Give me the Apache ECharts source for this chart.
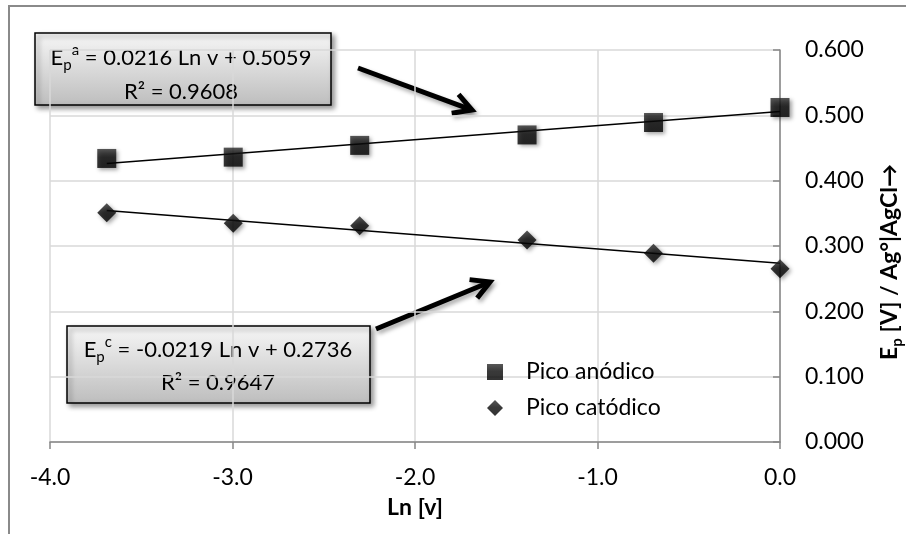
<!DOCTYPE html>
<html>
<head>
<meta charset="utf-8">
<script src="https://cdn.jsdelivr.net/npm/echarts@6/dist/echarts.min.js"></script>
<style>
  html, body { margin: 0; padding: 0; background: #fff; }
  #chart { width: 906px; height: 534px; }
</style>
</head>
<body>
<div id="chart"></div>
<script>
// Peak potential vs. ln(scan rate)
const lnV = [-3.689, -2.996, -2.303, -1.386, -0.693, 0.0];
const epAnodic = [0.434, 0.436, 0.454, 0.470, 0.489, 0.512];
const epCathodic = [0.351, 0.335, 0.331, 0.309, 0.289, 0.265];
const seriesNames = ['Pico anódico', 'Pico catódico'];

// Linear fits (E = slope * Ln v + intercept)
const fitAnodic = { slope: 0.0216, intercept: 0.5059, r2: '0.9608' };
const fitCathodic = { slope: -0.0219, intercept: 0.2736, r2: '0.9647' };

// Axis ranges: [min, max, interval]
const xRange = [-4, 0, 1];
const yRange = [0, 0.6, 0.1];
const xTitle = 'Ln [v]';

const FONT = 'Lato, "Open Sans", sans-serif';

function fitLine(fit) {
  const x0 = lnV[0], x1 = lnV[lnV.length - 1];
  return [[x0, fit.slope * x0 + fit.intercept], [x1, fit.slope * x1 + fit.intercept]];
}
function pairs(ys) { return lnV.map((x, i) => [x, ys[i]]); }
function fmtSigned(v) { return (v < 0 ? '-' : '') + Math.abs(v).toFixed(4); }

const markerFill = new echarts.graphic.LinearGradient(0, 0, 0, 1, [
  { offset: 0, color: '#2e2e2e' },
  { offset: 0.45, color: '#080808' },
  { offset: 1, color: '#000000' }
]);
const markerStyle = {
  color: markerFill,
  shadowBlur: 4, shadowOffsetX: 2, shadowOffsetY: 2, shadowColor: 'rgba(0,0,0,0.45)'
};

const richEq = {
  b: { fontFamily: FONT, fontSize: 22, lineHeight: 30, color: '#000' },
  sub: { fontFamily: FONT, fontSize: 15, lineHeight: 15, verticalAlign: 'bottom', color: '#000' },
  sup: { fontFamily: FONT, fontSize: 15, lineHeight: 15, verticalAlign: 'top', color: '#000' }
};

function eqLine(sup, fit) {
  const sign = fit.intercept < 0 ? '-' : '+';
  return '{b|E}{sub|p}{sup|' + sup + '}{b| = ' + fmtSigned(fit.slope) + ' Ln v ' + sign + ' ' +
    Math.abs(fit.intercept).toFixed(4) + '}';
}

// Trendline label box: rectangle + equation line + R² line
function eqBox(x, y, w, h, cx, y1, y2, sup, fit) {
  return {
    type: 'group',
    z: 20,
    children: [
      {
        type: 'rect',
        shape: { x: x, y: y, width: w, height: h },
        style: {
          fill: new echarts.graphic.LinearGradient(0, 0, 0, 1, [
            { offset: 0, color: '#f7f7f7' },
            { offset: 1, color: '#bdbdbd' }
          ]),
          stroke: '#000', lineWidth: 1.5,
          shadowBlur: 5, shadowOffsetX: 3, shadowOffsetY: 3, shadowColor: 'rgba(0,0,0,0.4)'
        }
      },
      {
        type: 'text', x: cx, y: y1,
        style: { text: eqLine(sup, fit), align: 'center', verticalAlign: 'middle', rich: richEq }
      },
      {
        type: 'text', x: cx, y: y2,
        style: {
          text: 'R² = ' + fit.r2, align: 'center', verticalAlign: 'middle',
          fontFamily: FONT, fontSize: 22, fill: '#000'
        }
      }
    ]
  };
}

function arrow(tail, tip) {
  const dx = tip[0] - tail[0], dy = tip[1] - tail[1];
  const len = Math.sqrt(dx * dx + dy * dy);
  const ux = dx / len, uy = dy / len, px = -uy, py = ux;
  const back = 18, half = 10;
  const bx = tip[0] - back * ux, by = tip[1] - back * uy;
  const shadow = { shadowBlur: 4, shadowOffsetX: 2, shadowOffsetY: 3, shadowColor: 'rgba(0,0,0,0.35)' };
  return {
    type: 'group',
    z: 20,
    children: [
      {
        type: 'line',
        shape: { x1: tail[0], y1: tail[1], x2: tip[0] - 2 * ux, y2: tip[1] - 2 * uy },
        style: Object.assign({ stroke: '#000', lineWidth: 5 }, shadow)
      },
      {
        type: 'polyline',
        shape: { points: [[bx + half * px, by + half * py], [tip[0], tip[1]], [bx - half * px, by - half * py]] },
        style: Object.assign({ stroke: '#000', lineWidth: 5, fill: null, lineJoin: 'miter' }, shadow)
      }
    ]
  };
}

const chart = echarts.init(document.getElementById('chart'), null, { renderer: 'canvas' });

chart.setOption({
  backgroundColor: '#fff',
  animation: false,
  textStyle: { fontFamily: FONT },
  grid: { left: 50, right: 126, top: 50, bottom: 92 },
  xAxis: {
    type: 'value',
    min: xRange[0], max: xRange[1], interval: xRange[2],
    name: xTitle,
    nameLocation: 'middle',
    nameGap: 54,
    nameTextStyle: { fontFamily: FONT, fontSize: 23, fontWeight: 'bold', color: '#000' },
    axisLine: { onZero: false, lineStyle: { color: '#868686', width: 1.5 } },
    axisTick: { show: true, inside: false, length: 7, lineStyle: { color: '#868686', width: 1.5 } },
    axisLabel: { margin: 24, fontSize: 23, color: '#000', fontFamily: FONT, formatter: v => v.toFixed(1) },
    splitLine: { show: true, lineStyle: { color: '#d9d9d9', width: 1.5 } }
  },
  yAxis: {
    type: 'value',
    position: 'right',
    min: yRange[0], max: yRange[1], interval: yRange[2],
    axisLine: { show: true, onZero: false, lineStyle: { color: '#868686', width: 1.5 } },
    axisTick: { show: true, inside: true, length: 7, lineStyle: { color: '#868686', width: 1.5 } },
    axisLabel: { margin: 25, fontSize: 23, color: '#000', fontFamily: FONT, formatter: v => v.toFixed(3) },
    splitLine: { show: true, lineStyle: { color: '#d9d9d9', width: 1.5 } }
  },
  legend: {
    orient: 'vertical',
    left: 482, top: 353,
    itemWidth: 16, itemHeight: 16, itemGap: 8,
    data: seriesNames,
    textStyle: { fontFamily: FONT, fontSize: 23, color: '#000', lineHeight: 28, padding: [0, 0, 0, 18] }
  },
  series: [
    {
      name: 'fit-a', type: 'line', data: fitLine(fitAnodic), symbol: 'none', z: 2,
      lineStyle: { color: '#000', width: 1.5 }, silent: true
    },
    {
      name: 'fit-c', type: 'line', data: fitLine(fitCathodic), symbol: 'none', z: 2,
      lineStyle: { color: '#000', width: 1.5 }, silent: true
    },
    {
      name: seriesNames[0], type: 'scatter', data: pairs(epAnodic), z: 5,
      symbol: 'rect', symbolSize: 19, itemStyle: markerStyle
    },
    {
      name: seriesNames[1], type: 'scatter', data: pairs(epCathodic), z: 5,
      symbol: 'diamond', symbolSize: 19, itemStyle: markerStyle
    }
  ],
  graphic: [
    // outer chart frame
    {
      type: 'rect', z: 0, silent: true,
      shape: { x: 9, y: 6, width: 920, height: 560 },
      style: { fill: null, stroke: '#8a8a8a', lineWidth: 2 }
    },
    eqBox(35, 33, 296, 72, 181, 58, 92, 'a', fitAnodic),
    eqBox(67, 326, 303, 77, 218, 350, 383, 'c', fitCathodic),
    arrow([358, 68], [472, 110]),
    arrow([376, 329], [490, 282]),
    // right axis title
    {
      type: 'text', z: 20,
      x: 890, y: 262, rotation: Math.PI / 2,
      style: {
        text: '{b|E}{sub|p}{b| [V] / Ag°|AgCl→}',
        align: 'center', verticalAlign: 'middle',
        rich: {
          b: { fontFamily: FONT, fontSize: 23, fontWeight: 'bold', lineHeight: 29, color: '#000' },
          sub: { fontFamily: FONT, fontSize: 15, fontWeight: 'bold', lineHeight: 15, verticalAlign: 'bottom', color: '#000' }
        }
      }
    }
  ]
});
</script>
</body>
</html>
